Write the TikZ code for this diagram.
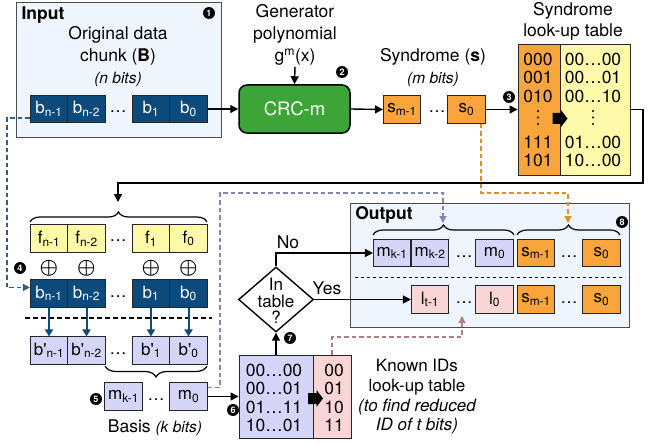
\documentclass[tikz,border=0pt]{standalone}
\usepackage{fontspec}
\setmainfont{TeX Gyre Heros}
\usetikzlibrary{shapes.geometric, arrows.meta, positioning, decorations.pathreplacing}
\definecolor{boxblue}{HTML}{EEF5FC}
\definecolor{bitblue}{HTML}{0D4A7C}
\definecolor{crcgreen}{HTML}{3DA538}
\definecolor{synorange}{HTML}{F9A53C}
\definecolor{flipyellow}{HTML}{FFFAAA}
\definecolor{basispurple}{HTML}{D5D5FA}
\definecolor{idpink}{HTML}{FAD5D5}
\definecolor{dashblue}{HTML}{2E5F8C}
\definecolor{dashpurple}{HTML}{8383BA}
\definecolor{dashorange}{HTML}{E0901F}
\definecolor{dashpink}{HTML}{B08080}
\newcommand{\bpr}[1]{b\textquotesingle\textsubscript{#1}}
\newcommand{\vdotsdraw}[1]{\fill[shift={#1}] (0,-6.5) circle (1.2pt) (0,0) circle (1.2pt) (0,6.5) circle (1.2pt);}
\newcommand{\fatarrow}[1]{\fill[shift={#1}] (-7.5,-5.5) -- (1,-5.5) -- (1,-8.5) -- (7.5,0) -- (1,8.5) -- (1,5.5) -- (-7.5,5.5) -- cycle;}
\tikzset{
    cell/.style={rectangle, draw=black!85, line width=0.6pt, minimum width=37.5pt, minimum height=27.5pt, inner sep=0pt, font=\fontsize{17}{17}\selectfont},
    bcell/.style={cell, fill=bitblue, text=white},
    fcell/.style={cell, fill=flipyellow},
    pcell/.style={cell, fill=basispurple},
    scell/.style={cell, fill=synorange},
    lcell/.style={cell, fill=idpink},
    dots/.style={font=\fontsize{17}{17}\selectfont, inner sep=0pt},
    xorsign/.style={font=\fontsize{21}{21}\selectfont\boldmath, inner sep=0pt},
    frame/.style={rectangle, draw=black!70, line width=0.9pt, fill=boxblue},
    badge/.style={circle, fill=black, text=white, inner sep=0pt, minimum size=12pt, font=\bfseries\fontsize{9}{9}\selectfont},
    arrow/.style={-{Triangle[length=8pt,width=8pt]}, line width=1.4pt},
    bitarrow/.style={-{Triangle[length=7pt,width=8pt]}, line width=2pt, draw=bitblue, fill=bitblue},
    labelstyle/.style={font=\fontsize{17.5}{22}\selectfont, align=center, inner sep=1pt},
    titlestyle/.style={font=\bfseries\fontsize{17.5}{17.5}\selectfont, inner sep=0pt},
    brace/.style={decorate, decoration={brace, amplitude=10pt}, line width=1.2pt},
    tabcol/.style={rectangle, draw=black!85, line width=0.9pt, inner sep=0pt},
    tabtext/.style={font=\fontsize{17.5}{17.5}\selectfont, inner sep=0pt},
    decision/.style={diamond, draw, line width=1.4pt, fill=white, minimum width=75pt, minimum height=65pt, inner sep=0pt},
    dashline/.style={dashed, line width=1.3pt, dash pattern=on 4.5pt off 3pt},
}
\begin{document}
\begin{tikzpicture}[x=1pt, y=-1pt]
\useasboundingbox (0,0) rectangle (662,444);

% input chunk
\node[frame, minimum width=205pt, minimum height=135pt] (inbox) at (119,69.5) {};
\node[titlestyle] (intitle) at (43,15) {Input};
\node[badge] (n1) at (209,13) {1};
\node[labelstyle] (chunk) at (118,57) {Original data\\chunk (\textbf{B})\\{\fontsize{15.5}{22}\selectfont\itshape (n bits)}};
\node[bcell] (in1) at (49,109) {b\textsubscript{n-1}};
\node[bcell] (in2) at (86.5,109) {b\textsubscript{n-2}};
\node[dots] (indots) at (118,112) {\dots};
\node[bcell] (in3) at (151,109) {b\textsubscript{1}};
\node[bcell] (in4) at (188.5,109) {b\textsubscript{0}};

% CRC
\node[labelstyle] (gen) at (295,35) {Generator\\polynomial\\g\textsuperscript{m}(x)};
\node[rectangle, rounded corners=8pt, draw, line width=1.5pt, fill=crcgreen, text=white, minimum width=111pt, minimum height=48pt, font=\fontsize{18.5}{18.5}\selectfont] (crc) at (294.5,109) {CRC-m};
\node[badge] (n2) at (342,72) {2};
\draw[arrow] (gen.south) -- (crc.north);
\draw[arrow] (in4.east) -- (crc.west);

% syndrome
\node[labelstyle] (synlbl) at (433,68) {Syndrome (\textbf{s})\\{\fontsize{15.5}{22}\selectfont\itshape (m bits)}};
\node[scell] (s1) at (402,109.5) {s\textsubscript{m-1}};
\node[dots] (sdots) at (437,112) {\dots};
\node[scell] (s2) at (466.5,109.5) {s\textsubscript{0}};
\draw[arrow] (crc.east) -- (s1.west);

% syndrome look-up table
\node[labelstyle, font=\fontsize{17.5}{21}\selectfont] (syntitle) at (573,21) {Syndrome\\look-up table};
\node[tabcol, fill=synorange, minimum width=42pt, minimum height=131pt] (sl) at (539,109.5) {};
\node[tabcol, fill=flipyellow, minimum width=70pt, minimum height=131pt] (sr) at (595,109.5) {};
\node[tabtext] at (538,59) {000};
\node[tabtext] at (538,77.5) {001};
\node[tabtext] at (538,96) {010};
\vdotsdraw{(538,117.5)}
\node[tabtext] at (538,142) {111};
\node[tabtext] at (538,160.5) {101};
\node[tabtext] at (593,59) {00\dots00};
\node[tabtext] at (593,77.5) {00\dots01};
\node[tabtext] at (593,96) {00\dots10};
\vdotsdraw{(593,117.5)}
\node[tabtext] at (593,142) {01\dots00};
\node[tabtext] at (593,160.5) {10\dots00};
\fatarrow{(560,118.5)}
\node[badge] (n3) at (509,97) {3};
\draw[arrow] (s2.east) -- (sl.west |- s2.east);

% flip bits
\coordinate (loop) at (643,183);
\coordinate (ftip) at (118,202);
\draw[arrow] (sr.east) -| (loop) -| (ftip);
\draw[brace] (30,222) -- (207,222);
\node[fcell] (f1) at (49,238.5) {f\textsubscript{n-1}};
\node[fcell] (f2) at (86.5,238.5) {f\textsubscript{n-2}};
\node[dots] (fdots) at (118,241) {\dots};
\node[fcell] (f3) at (151,238.5) {f\textsubscript{1}};
\node[fcell] (f4) at (188.5,238.5) {f\textsubscript{0}};
\node[badge] (n4) at (20,268) {4};
\node[xorsign] at (49,268) {$\oplus$};
\node[xorsign] at (86.5,268) {$\oplus$};
\node[xorsign] at (151,268) {$\oplus$};
\node[xorsign] at (188.5,268) {$\oplus$};
\node[bcell] (b1) at (49,293.5) {b\textsubscript{n-1}};
\node[bcell] (b2) at (86.5,293.5) {b\textsubscript{n-2}};
\node[dots] (bdots) at (118,297) {\dots};
\node[bcell] (b3) at (151,293.5) {b\textsubscript{1}};
\node[bcell] (b4) at (188.5,293.5) {b\textsubscript{0}};
\draw[dashline, color=dashblue, -{Triangle[length=7pt,width=7pt]}] ([yshift=-9pt]in1.west) -- ++(-23,0) |- ([yshift=6pt]b1.west);
\draw[dashed, line width=1.3pt, dash pattern=on 5pt off 3pt] (25,318) -- (212,318);

% basis
\node[pcell] (bp1) at (49,350.5) {\bpr{n-1}};
\node[pcell] (bp2) at (86.5,350.5) {\bpr{n-2}};
\node[dots] (bpdots) at (118,354) {\dots};
\node[pcell] (bp3) at (151,350.5) {\bpr{1}};
\node[pcell] (bp4) at (188.5,350.5) {\bpr{0}};
\draw[bitarrow] (b1.south) -- (bp1.north);
\draw[bitarrow] (b2.south) -- (bp2.north);
\draw[bitarrow] (b3.south) -- (bp3.north);
\draw[bitarrow] (b4.south) -- (bp4.north);
\draw[brace, decoration={amplitude=11pt}] (207,366) -- (105,366);
\node[pcell] (mm1) at (123.5,396.5) {m\textsubscript{k-1}};
\node[dots] (mdots) at (156,400) {\dots};
\node[pcell] (mm2) at (188.5,396.5) {m\textsubscript{0}};
\node[badge] (n5) at (96,399) {5};
\node[labelstyle] (basis) at (155,428) {Basis {\fontsize{15.5}{22}\selectfont\itshape (k bits)}};

% known IDs look-up table
\node[tabcol, fill=basispurple, minimum width=74pt, minimum height=83pt] (kl) at (276,396.5) {};
\node[tabcol, fill=idpink, minimum width=38pt, minimum height=83pt] (kr) at (332,396.5) {};
\node[tabtext] at (274,370) {00\dots00};
\node[tabtext] at (274,388.5) {00\dots01};
\node[tabtext] at (274,407) {01\dots11};
\node[tabtext] at (274,425) {10\dots01};
\node[tabtext] at (334,370) {00};
\node[tabtext] at (334,388.5) {01};
\node[tabtext] at (334,407) {10};
\node[tabtext] at (334,425) {11};
\fatarrow{(315.5,398.5)}
\node[labelstyle, font=\fontsize{17}{19.7}\selectfont] (knownlbl) at (417,397) {Known IDs\\look-up table\\{\itshape (to find reduced}\\{\itshape ID of t bits)}};
\node[badge] (n6) at (233,410) {6};
\draw[arrow] (mm2.east) -- (kl.west);

% decision
\node[decision] (dia) at (276,299.5) {};
\node[labelstyle, font=\fontsize{17}{16.5}\selectfont] (dialbl) at (276,301) {In\\table\\?};
\node[badge] (n7) at (290,338) {7};
\draw[arrow] (kl.north) -- (dia.south);

% output
\node[frame, minimum width=279pt, minimum height=124pt] (outbox) at (489.5,265) {};
\node[titlestyle] (outtitle) at (384,215) {Output};
\node[badge] (n8) at (622,222) {8};
\draw[brace] (373,235) -- (514,235);
\draw[brace] (517,235) -- (620,235);
\node[pcell] (o1) at (392,253) {m\textsubscript{k-1}};
\node[pcell] (o2) at (430,253) {m\textsubscript{k-2}};
\node[dots] (odots) at (464,256.5) {\dots};
\node[pcell] (o3) at (494.5,253) {m\textsubscript{0}};
\node[scell] (o4) at (536,253) {s\textsubscript{m-1}};
\node[dots] (osdots) at (569,256.5) {\dots};
\node[scell] (o5) at (601.5,253) {s\textsubscript{0}};
\draw[dashed, line width=0.9pt] (355,277) -- (625,277);
\node[lcell] (r1) at (430,299.5) {l\textsubscript{t-1}};
\node[dots] (rdots) at (464,303) {\dots};
\node[lcell] (r2) at (494.5,299.5) {l\textsubscript{0}};
\node[scell] (r3) at (536,299.5) {s\textsubscript{m-1}};
\node[dots] (rsdots) at (569,303) {\dots};
\node[scell] (r4) at (601.5,299.5) {s\textsubscript{0}};
\draw[arrow] (dia.north) |- (o1.west);
\draw[arrow] (dia.east) -- (r1.west);
\node[labelstyle] (nolbl) at (288,242) {No};
\node[labelstyle] (yeslbl) at (327,288) {Yes};

% dashed feeds into output
\coordinate (pturn) at (220,193);
\coordinate (otip1) at (443,223);
\coordinate (oturn) at (481,193);
\coordinate (otip2) at (568,223);
\coordinate (kturn) at (332,337);
\coordinate (ltip) at (462,316);
\draw[dashline, color=dashpurple, -{Triangle[length=7pt,width=7pt]}] ([yshift=9pt]mm2.east) -| (pturn) -| (otip1);
\draw[dashline, color=dashorange, -{Triangle[length=7pt,width=7pt]}] ([xshift=14.5pt]s2.south) -- (oturn) -| (otip2);
\draw[dashline, color=dashpink, -{Triangle[length=7pt,width=7pt]}] (kr.north) -- (kturn) -| (ltip);
\end{tikzpicture}
\end{document}
